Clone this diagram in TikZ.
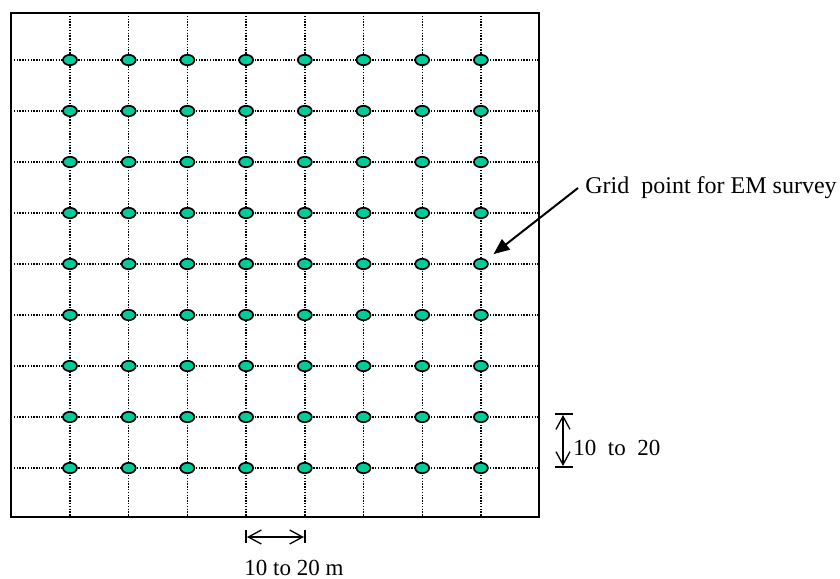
\documentclass[tikz,border=0pt]{standalone}
\usepackage{fontspec}
\setmainfont{Liberation Serif}
\usepackage{tikz}
\usetikzlibrary{positioning,arrows.meta,shapes.geometric}
\definecolor{GridGreen}{RGB}{0,204,153}
\tikzset{
  gp/.style={ellipse,draw=black,fill=GridGreen,line width=0.85pt,minimum width=7pt,minimum height=5.2pt,inner sep=0pt},
  gline/.style={line width=0.7pt,dash pattern=on 0.65pt off 0.75pt},
  frame/.style={draw=black,line width=1pt},
}
\tikzset{lab/.style={font=\fontsize{11.5}{13}\selectfont,inner sep=0pt}, dimarrow/.style={line width=0.65pt,{Straight Barb[length=6.5pt,width=7pt]}-{Straight Barb[length=6.5pt,width=7pt]}}, bar/.style={line width=0.9pt}, pointer/.style={line width=1pt,-{Triangle[length=8pt,width=6.5pt]}}}

\begin{document}
\begin{tikzpicture}[x=0.5pt,y=-0.5pt]
\useasboundingbox (0,0) rectangle (840,578);
% survey grid
\foreach \i in {0,...,7} \draw[gline] ({70+58.7*\i},13) -- ({70+58.7*\i},517);
\foreach \j in {0,...,8} \draw[gline] (11,{60+51*\j}) -- (539,{60+51*\j});
\draw[frame] (11,13) rectangle (539,517);
\foreach \i in {1,...,8}
  \foreach \j in {1,...,9}
    \node[gp] (p-\i-\j) at ({70+58.7*(\i-1)},{60+51*(\j-1)}) {};
% label and pointer
\node[lab,font=\fontsize{12}{14}\selectfont,anchor=west,inner xsep=3.5pt] (gpl) at (578,188) {Grid\ \ point for EM survey};
\draw[pointer,shorten >=4.5pt] (gpl.west) -- (p-8-5);
% row spacing
\draw[bar] (555,414) -- (573,414);
\draw[bar] (555,467) -- (573,467);
\coordinate (vt) at (563,415);
\coordinate (vb) at (563,466);
\draw[dimarrow] (vt) -- (vb);
\node[lab,anchor=west] (vlab) at (573,448) {10\ \ to\ \ 20};
% column spacing
\draw[bar] (246,530) -- (246,543);
\draw[bar] (305,530) -- (305,543);
\coordinate (hl) at (247,537);
\coordinate (hr) at (304,537);
\draw[dimarrow] (hl) -- (hr);
\node[lab] (hlab) at (294,568) {10 to 20 m};
\end{tikzpicture}
\end{document}
